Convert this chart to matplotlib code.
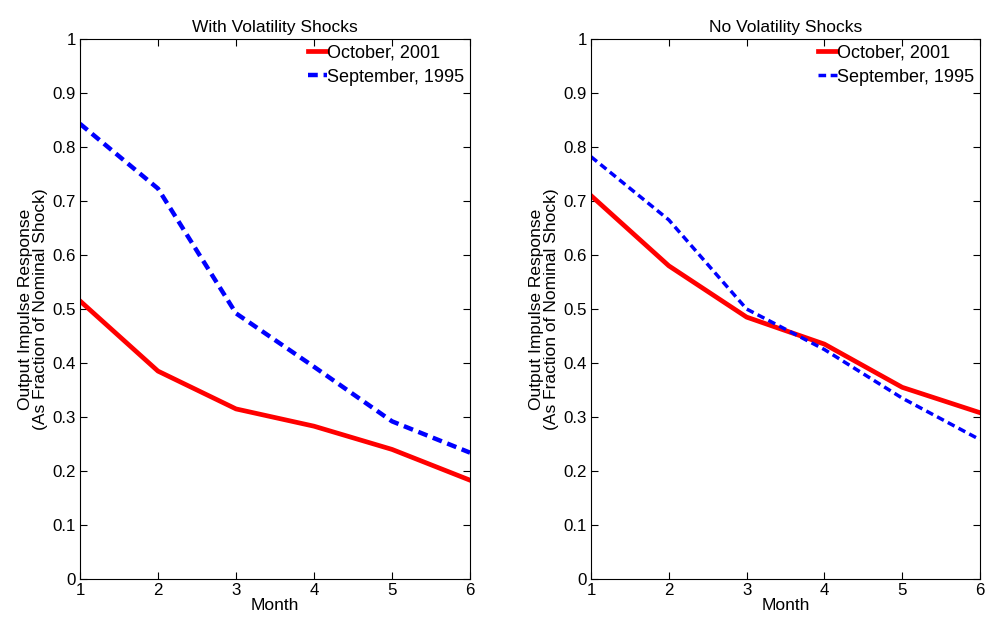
import matplotlib
matplotlib.use("Agg")
import matplotlib.pyplot as plt

plt.rcParams['font.family'] = ['Liberation Sans', 'DejaVu Sans']
plt.rcParams['font.size'] = 12.5

months = [1, 2, 3, 4, 5, 6]

# With volatility shocks
with_oct2001 = [0.515, 0.385, 0.315, 0.283, 0.240, 0.183]
with_sep1995 = [0.843, 0.723, 0.492, 0.393, 0.292, 0.234]

# No volatility shocks
no_oct2001 = [0.710, 0.580, 0.485, 0.435, 0.355, 0.308]
no_sep1995 = [0.782, 0.665, 0.500, 0.425, 0.335, 0.258]

titles = ["With Volatility Shocks", "No Volatility Shocks"]
yticks = [0, 0.1, 0.2, 0.3, 0.4, 0.5, 0.6, 0.7, 0.8, 0.9, 1]
ytick_labels = ["0", "0.1", "0.2", "0.3", "0.4", "0.5", "0.6", "0.7", "0.8", "0.9", "1"]

fig = plt.figure(figsize=(9.86, 6.2), dpi=100)
ax1 = fig.add_axes([0.0811, 0.0661, 0.3956, 0.871])
ax2 = fig.add_axes([0.5994, 0.0661, 0.3945, 0.871])

panels = [(ax1, with_oct2001, with_sep1995, 3.2), (ax2, no_oct2001, no_sep1995, 2.5)]
for i, (ax, red, blue, blw) in enumerate(panels):
    ax.plot(months, red, color='#ff0000', lw=3.4, label='October, 2001')
    ax.plot(months, blue, color='#0000ff', lw=blw, ls=(0, (2.2, 1.3)), label='September, 1995')
    ax.set_xlim(1, 6)
    ax.set_ylim(0, 1)
    ax.set_xticks(months)
    ax.set_yticks(yticks)
    ax.set_yticklabels(ytick_labels)
    ax.tick_params(direction='in', top=True, right=True, length=5, width=0.8,
                   pad=3, labelsize=12.2)
    ax.set_title(titles[i], fontsize=12.5, pad=5)
    ax.set_xlabel('Month', fontsize=12.5, labelpad=0)
    ax.set_ylabel('Output Impulse Response\n(As Fraction of Nominal Shock)', fontsize=12.5,
                  labelpad=3, linespacing=1.05)
    for s in ax.spines.values():
        s.set_linewidth(0.8)
    ax.legend(loc='upper right', frameon=False, handlelength=1.1, handletextpad=0.0,
              labelspacing=0.4, borderaxespad=0.1, borderpad=0.2, fontsize=13)

fig.savefig('out.png', dpi=100)
